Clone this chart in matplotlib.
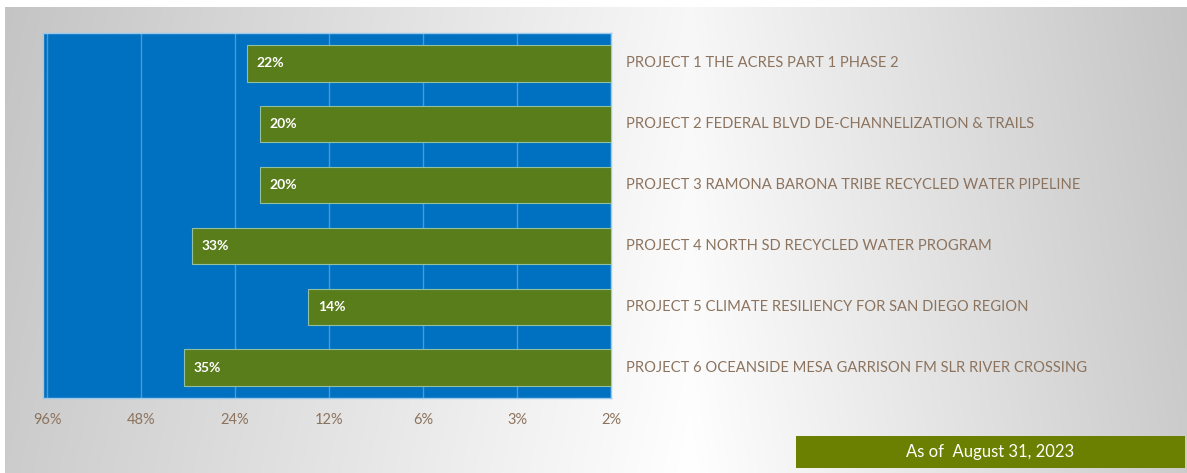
import matplotlib.pyplot as plt
import numpy as np
from matplotlib.ticker import FixedLocator, FixedFormatter, NullLocator

projects = [
    "PROJECT 1 THE ACRES PART 1 PHASE 2",
    "PROJECT 2 FEDERAL BLVD DE-CHANNELIZATION & TRAILS",
    "PROJECT 3 RAMONA BARONA TRIBE RECYCLED WATER PIPELINE",
    "PROJECT 4 NORTH SD RECYCLED WATER PROGRAM",
    "PROJECT 5 CLIMATE RESILIENCY FOR SAN DIEGO REGION",
    "PROJECT 6 OCEANSIDE MESA GARRISON FM SLR RIVER CROSSING",
]
percent = [22, 20, 20, 33, 14, 35]
tick_values = [96, 48, 24, 12, 6, 3, 1.5]
tick_labels = ["96%", "48%", "24%", "12%", "6%", "3%", "2%"]
axis_min = 1.5
axis_max = 99

W, H = 1187, 473
fig = plt.figure(figsize=(W / 100, H / 100), dpi=100)
fig.patch.set_facecolor("white")

# gradient card behind everything
bg = fig.add_axes([5 / W, 0, 1 - 5 / W, 1 - 7 / H], zorder=-10)
xs = np.linspace(0, 1, 400)
col = np.interp(xs, [0, 0.58, 1], [0.80, 1.0, 0.80])
ys = np.linspace(0, 1, 100)[:, None]
grad = col[None, :] - 0.03 * (1 - ys)
grad = np.clip(grad, 0, 1)
bg.imshow(np.dstack([grad, grad, grad]), aspect="auto", extent=[0, 1, 0, 1])
bg.set_axis_off()

ax = fig.add_axes([43 / W, 1 - 398 / H, (611 - 43) / W, (398 - 33) / H])
ax.set_facecolor("#0070C0")
ax.set_xscale("log", base=2)
ax.set_xlim(axis_max, axis_min)

y = np.arange(len(projects))
widths = [p - axis_min for p in percent]
ax.barh(y, widths, left=axis_min, height=0.6, color="#5A7D1C",
        edgecolor="#8FC0A0", linewidth=0.8, zorder=3)
ax.set_ylim(len(projects) - 0.5, -0.5)

for yi, p in zip(y, percent):
    ax.text(p * 0.93, yi, f"{p}%", color="white", fontweight="bold",
            fontsize=10, family="Lato", va="center", ha="left", zorder=4)
    ax.annotate(projects[yi], xy=(1.0, yi), xycoords=("axes fraction", "data"),
                xytext=(11, 0), textcoords="offset points", va="center",
                ha="left", fontsize=10.6, color="#8C735E", family="Lato")

ax.xaxis.set_major_locator(FixedLocator(tick_values))
ax.xaxis.set_major_formatter(FixedFormatter(tick_labels))
ax.xaxis.set_minor_locator(NullLocator())
ax.tick_params(axis="x", length=0, pad=11, labelsize=10.5, labelcolor="#8C735E")
for lab in ax.get_xticklabels():
    lab.set_family("Lato")
ax.set_yticks([])
ax.grid(axis="x", color="#4A9AD8", linewidth=1, zorder=1)
ax.set_axisbelow(True)
for s in ax.spines.values():
    s.set_color("#9CC8EC")
    s.set_linewidth(1)

# date box
box = fig.add_axes([796 / W, 1 - 468 / H, (1185 - 796) / W, 32 / H])
box.set_facecolor("#6B8000")
box.set_xticks([])
box.set_yticks([])
for s in box.spines.values():
    s.set_visible(False)
box.text(0.5, 0.5, "As of  August 31, 2023", color="white", fontsize=12,
         family="Lato", ha="center", va="center", transform=box.transAxes)

fig.savefig("out.png", dpi=100)
